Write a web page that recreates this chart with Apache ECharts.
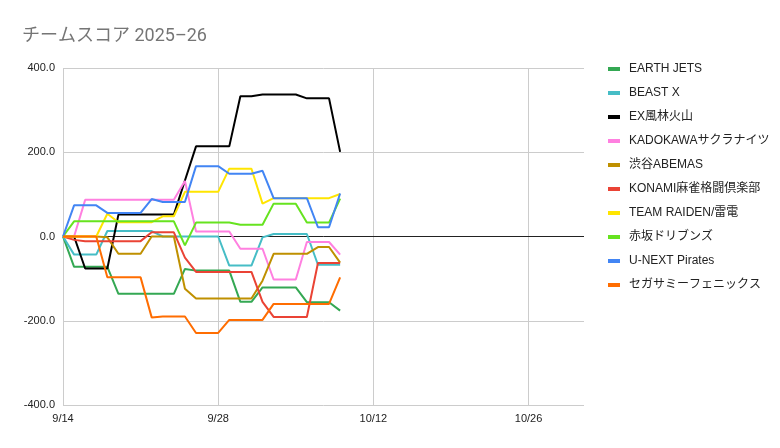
<!DOCTYPE html>
<html>
<head>
<meta charset="utf-8">
<script src="https://cdn.jsdelivr.net/npm/echarts@6/dist/echarts.min.js"></script>
<style>
html,body{margin:0;padding:0;background:#fff;}
#chart{width:780px;height:448px;}
</style>
</head>
<body>
<div id="chart"></div>
<script>
const dates = ['9/14','9/15','9/16','9/17','9/18','9/19','9/20','9/21','9/22','9/23','9/24','9/25','9/26',
  '9/27','9/28','9/29','9/30','10/1','10/2','10/3','10/4','10/5','10/6','10/7','10/8','10/9'];
const teams = ['EARTH JETS','BEAST X','EX風林火山','KADOKAWAサクラナイツ','渋谷ABEMAS','KONAMI麻雀格闘倶楽部',
  'TEAM RAIDEN/雷電','赤坂ドリブンズ','U-NEXT Pirates','セガサミーフェニックス'];
const earthJets = [0,-72,-72,-72,-72,-136,-136,-136,-136,-136,-136,-77,-81,-81,-81,-81,-155,-155,-121,-121,-121,-121,-156,-156,-156,-176];
const beastX    = [0,-43,-43,-43,13,13,13,13,13,0,0,0,0,0,0,-69,-69,-69,-2,6,6,6,6,-67,-67,-67];
const exFurin   = [0,0,-76,-76,-76,52,52,52,52,52,52,133,214,214,214,214,333,333,337,337,337,337,328,328,328,201];
const kadokawa  = [0,0,87,87,87,87,87,87,87,87,87,132,12,12,12,12,-29,-29,-29,-102,-102,-102,-13,-13,-13,-43];
const abemas    = [0,0,0,0,-2,-41,-41,-41,0,0,0,-124,-147,-147,-147,-147,-147,-147,-105,-41,-41,-41,-41,-25,-25,-62];
const konami    = [0,-8,-11,-11,-11,-11,-11,-11,10,10,10,-50,-84,-84,-84,-84,-84,-84,-155,-191,-191,-191,-191,-63,-63,-63];
const raiden    = [0,0,0,0,54,34,34,34,34,48,48,106,106,106,106,161,161,161,78,91,91,91,91,91,91,101];
const drivens   = [0,36,36,36,36,36,36,36,36,36,36,-21,33,33,33,33,28,28,28,78,78,78,33,33,33,90];
const unext     = [0,74,74,74,56,56,56,56,89,82,82,82,167,167,167,149,149,149,156,91,91,91,91,22,22,102];
const sega      = [0,0,0,0,-97,-97,-97,-97,-192,-190,-190,-190,-229,-229,-229,-198,-198,-198,-198,-160,-160,-160,-160,-160,-160,-97];
const values = [earthJets, beastX, exFurin, kadokawa, abemas, konami, raiden, drivens, unext, sega];
const colors = ['#34a853','#46bdc6','#000000','#ff80e0','#bf9000','#ea4335','#ffe500','#66e31f','#4285f4','#ff6d01'];
const startDate = '9/14';
const endDate = '10/31';
const yTicks = [-400,-200,0,200,400];

const YEAR = 2025;
function toDay(s){ const [m,d]=s.split('/').map(Number); return Date.UTC(YEAR,m-1,d)/86400000; }
const base = toDay(startDate);
function off(s){ return toDay(s)-base; }
function fmtDay(v){ const dt=new Date((base+v)*86400000); return (dt.getUTCMonth()+1)+'/'+dt.getUTCDate(); }

const titleFont = 'Roboto, "Noto Sans CJK JP", sans-serif';
const font = '"Liberation Sans", Arial, "Noto Sans CJK JP", sans-serif';
const chart = echarts.init(document.getElementById('chart'));
const series = teams.map((name,k)=>({
  name, type:'line', showSymbol:false, symbol:'none',
  lineStyle:{width:2,color:colors[k]}, itemStyle:{color:colors[k]},
  data: dates.map((d,i)=>[off(d), values[k][i]]),
  z: 3,
  markLine: k===0 ? {silent:true, symbol:'none', label:{show:false},
    lineStyle:{color:'#222',width:1,type:'solid'}, data:[{yAxis:0}], z:2} : undefined
}));
chart.setOption({
  animation:false,
  backgroundColor:'#fff',
  title:{text:'チームスコア 2025–26', left:17, top:23,
    textStyle:{color:'#757575', fontSize:18, fontWeight:'normal', fontFamily:titleFont}},
  grid:{left:63, right:196, top:68, bottom:43, containLabel:false},
  legend:{orient:'vertical', left:603, top:58, icon:'rect', itemWidth:12, itemHeight:4, itemGap:12,
    data:teams,
    textStyle:{color:'#222', fontSize:12, fontFamily:font, padding:[0,0,0,4]}},
  xAxis:{type:'value', min:0, max:off(endDate), interval:14,
    axisLine:{show:false}, axisTick:{show:false},
    splitLine:{show:true, showMaxLine:false, lineStyle:{color:'#cccccc',width:1}},
    axisLabel:{color:'#222', fontSize:11, fontFamily:font, margin:8, showMaxLabel:false,
      formatter:(v)=>fmtDay(v)}},
  yAxis:{type:'value', min:yTicks[0], max:yTicks[yTicks.length-1], interval:200,
    axisLine:{show:false}, axisTick:{show:false},
    splitLine:{lineStyle:{color:'#cccccc',width:1}},
    axisLabel:{color:'#222', fontSize:11, fontFamily:font, margin:8, formatter:(v)=>v.toFixed(1)}},
  series
});
</script>
</body>
</html>
